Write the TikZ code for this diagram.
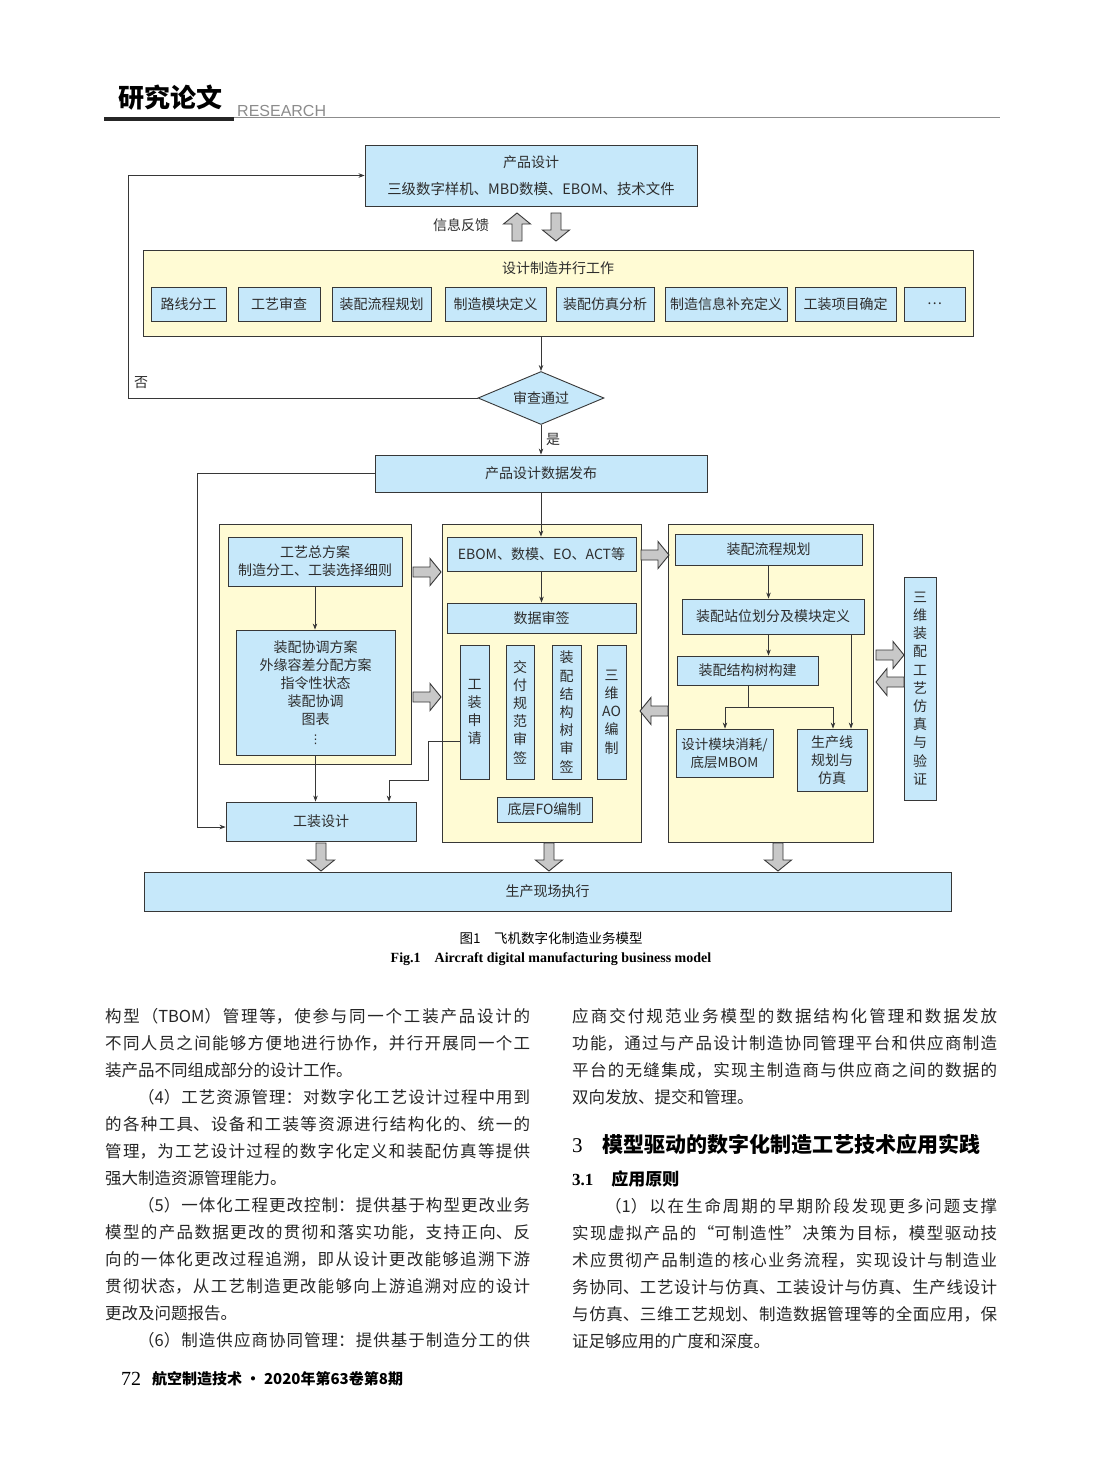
\documentclass[tikz,border=0pt]{standalone}
\usepackage{fontspec}
\setmainfont{Noto Sans CJK SC}
\newfontfamily\serifL{Liberation Serif}
\newfontfamily\sansL{Liberation Sans}
\newfontfamily\dejavu{DejaVu Sans}
\usetikzlibrary{shapes.geometric,arrows.meta}
\XeTeXlinebreaklocale "zh"
\XeTeXlinebreakskip=0pt plus 6pt
\definecolor{blueF}{RGB}{198,232,250}
\definecolor{yelF}{RGB}{255,251,212}
\definecolor{lineC}{RGB}{55,55,55}
\definecolor{arrF}{RGB}{200,200,200}
\definecolor{txtC}{RGB}{45,45,45}
\definecolor{hdgray}{RGB}{140,140,140}
\newcommand\dfont{\fontsize{14}{18}\selectfont}
\newcommand\bodyfont{\fontsize{16.5}{27}\selectfont}
\newcommand\jl[1]{\parbox[b]{425pt}{\noindent\parfillskip=0pt\relax #1}}
\newcommand\bx[7]{\node[#6, minimum width={(#4-#2)*1pt}, minimum height={(#5-#3)*1pt}] (#1) at ({(#2+#4)/2},{(#3+#5)/2}) {#7};}
\tikzset{
  every node/.style={text=txtC},
  bbox/.style={draw=lineC, line width=0.9pt, fill=blueF, inner sep=0pt, align=center, font=\dfont},
  ybox/.style={draw=lineC, line width=0.9pt, fill=yelF, inner sep=0pt},
  vbox/.style={bbox, font=\fontsize{14}{18.2}\selectfont},
  decision/.style={diamond, aspect=2.38, draw=lineC, line width=0.9pt, fill=blueF, minimum width=126pt, minimum height=53pt, inner sep=0pt, font=\dfont},
  arr/.style={draw=lineC, line width=0.7pt, -{Stealth[length=6pt,width=4.5pt]}},
  ln/.style={draw=lineC, line width=0.7pt},
  blk/.style={draw=lineC, line width=0.9pt, fill=arrF, line join=miter},
  lbl/.style={font=\dfont, inner sep=0pt},
  body/.style={anchor=base west, inner sep=0pt, font=\bodyfont, text=black!85},
  barr/.pic={\path[blk] (0,-5) -- (17,-5) -- (17,-13.5) -- (28,0) -- (17,13.5) -- (17,5) -- (0,5) -- cycle;}
}
\begin{document}
\begin{tikzpicture}[x=1pt,y=-1pt]
\useasboundingbox (0,0) rectangle (1102,1484);
\fill[white] (0,0) rectangle (1102,1484);
% header
\node[inner sep=0pt, font=\fontsize{26}{26}\selectfont\bfseries, text=black] (hd) at (170,98) {研究论文};
\node[inner sep=0pt, anchor=base west, font=\sansL\fontsize{16}{16}\selectfont, text=hdgray] (rs) at (237,116) {RESEARCH};
\draw[black!85, line width=4pt] (104,119) -- (234,119);
\draw[hdgray, line width=1.2pt] (234,117.5) -- (1000,117.5);
% top
\bx{pd}{365}{145}{697}{206}{bbox}{产品设计\\[9pt]\fontsize{14.4}{18}\selectfont 三级数字样机、MBD数模、EBOM、技术文件}
\node[lbl] (fb) at (461,225) {信息反馈};
\pic[rotate=90] (fbu) at (517,241) {barr};
\pic[rotate=-90] (fbd) at (556,213) {barr};
\bx{par}{143}{250}{973}{336}{ybox}{}
\node[lbl] (parT) at (558,268) {设计制造并行工作};
\bx{p1}{151}{287}{226}{321}{bbox}{路线分工}
\bx{p2}{238}{287}{320}{321}{bbox}{工艺审查}
\bx{p3}{332}{287}{431}{321}{bbox}{装配流程规划}
\bx{p4}{445}{287}{546}{321}{bbox}{制造模块定义}
\bx{p5}{556}{287}{654}{321}{bbox}{装配仿真分析}
\bx{p6}{665}{287}{787}{321}{bbox}{制造信息补充定义}
\bx{p7}{795}{287}{896}{321}{bbox}{工装项目确定}
\bx{p8}{904}{287}{965}{321}{bbox}{…}
\node[decision] (dia) at (541,398) {审查通过};
\node[lbl] (no) at (141,383) {否};
\node[lbl] (yes) at (553,439) {是};
\bx{pub}{375}{455}{707}{492}{bbox}{产品设计数据发布}
% yellow groups
\bx{yL}{219}{524}{411}{764}{ybox}{}
\bx{yM}{442}{524}{641}{842}{ybox}{}
\bx{yR}{668}{524}{873}{842}{ybox}{}
% left group
\bx{gz}{228}{537}{402}{586}{bbox}{工艺总方案\\制造分工、工装选择细则}
\bx{zt}{236}{630}{395}{755}{bbox}{装配协调方案\\外缘容差分配方案\\指令性状态\\装配协调\\图表\\[1pt]{\dejavu\fontsize{12}{12}\selectfont ⋮}}
\bx{tool}{226}{802}{416}{841}{bbox}{工装设计}
% middle group
\bx{eb}{447}{537}{636}{571}{bbox}{EBOM、数模、EO、ACT等}
\bx{sq}{447}{603}{636}{633}{bbox}{数据审签}
\bx{v1}{460}{645}{489}{779}{vbox}{工\\装\\申\\请}
\bx{v2}{506}{645}{534}{779}{vbox}{交\\付\\规\\范\\审\\签}
\bx{v3}{552}{645}{581}{779}{vbox}{装\\配\\结\\构\\树\\审\\签}
\bx{v4}{597}{645}{626}{779}{vbox}{三\\维\\AO\\编\\制}
\bx{fo}{497}{797}{592}{822}{bbox}{底层FO编制}
% right group
\bx{lc}{675}{534}{862}{565}{bbox}{装配流程规划}
\bx{zw}{682}{599}{864}{634}{bbox}{装配站位划分及模块定义}
\bx{jgs}{677}{656}{818}{685}{bbox}{装配结构树构建}
\bx{mk}{676}{729}{773}{777}{bbox}{\fontsize{13.5}{18}\selectfont 设计模块消耗/\\\fontsize{13.5}{18}\selectfont 底层MBOM}
\bx{scx}{797}{729}{867}{791}{bbox}{生产线\\规划与\\仿真}
\bx{sim}{904}{577}{936}{800}{vbox}{三\\维\\装\\配\\工\\艺\\仿\\真\\与\\验\\证}
\bx{exe}{144}{872}{951}{911}{bbox}{生产现场执行}
% connectors
\coordinate (fbk) at (128,0);
\coordinate (lft) at (197,827);
\coordinate (c1) at (428,741);
\coordinate (c2) at (389,780);
\coordinate (c3) at (851,0);
\coordinate (c4) at (748,707);
\coordinate (c5) at (725,707);
\coordinate (c6) at (833,707);
\draw[arr] (dia.north |- par.south) -- (dia.north);
\draw[arr] (dia.west) -| (fbk |- pd.west) -- (pd.west);
\draw[arr] (dia.south) -- (pub.north -| dia.south);
\draw[arr] (pub.west) -| (lft) -- (tool.west |- lft);
\draw[arr] (pub.south) -- (pub.south |- eb.north);
\draw[arr] (gz.south) -- (gz.south |- zt.north);
\draw[arr] (zt.south) -- (zt.south |- tool.north);
\draw[arr] (v1.west |- c1) -- (c1) |- (c2) -- (c2 |- tool.north);
\draw[arr] (eb.south) -- (eb.south |- sq.north);
\draw[arr] (lc.south) -- (lc.south |- zw.north);
\draw[arr] (zw.south -| lc.south) -- (lc.south |- jgs.north);
\draw[arr] (zw.south -| c3) -- (scx.north -| c3);
\draw[ln] (jgs.south -| c4) -- (c4);
\draw[arr] (c4) -- (c5) -- (c5 |- mk.north);
\draw[arr] (c4) -- (c6) -- (c6 |- scx.north);
% block arrows
\pic (bL1) at (413,572) {barr};
\pic (bL2) at (413,697) {barr};
\pic (bMR) at (641,555) {barr};
\pic[rotate=180] (bRM) at (668,711) {barr};
\pic (bR3) at (876,655) {barr};
\pic[rotate=180] (b3R) at (904,682) {barr};
\pic[rotate=-90] (bd1) at (321,843) {barr};
\pic[rotate=-90] (bd2) at (549,843) {barr};
\pic[rotate=-90] (bd3) at (778,843) {barr};
% caption
\node[inner sep=0pt, font=\fontsize{13.5}{14}\selectfont, text=black] (cap1) at (551,938) {图1\quad 飞机数字化制造业务模型};
\node[inner sep=0pt, font=\serifL\bfseries\fontsize{14}{14}\selectfont, text=black] (cap2) at (551,959) {Fig.1\quad Aircraft digital manufacturing business model};
% left column
\node[body] (l1) at (105,1022) {\jl{构型（TBOM）管理等，使参与同一个工装产品设计的}};
\node[body] (l2) at (105,1049) {\jl{不同人员之间能够方便地进行协作，并行开展同一个工}};
\node[body] (l3) at (105,1076) {装产品不同组成部分的设计工作。};
\node[body] (l4) at (105,1103) {\jl{\hskip 33pt（4）工艺资源管理：对数字化工艺设计过程中用到}};
\node[body] (l5) at (105,1130) {\jl{的各种工具、设备和工装等资源进行结构化的、统一的}};
\node[body] (l6) at (105,1157) {\jl{管理，为工艺设计过程的数字化定义和装配仿真等提供}};
\node[body] (l7) at (105,1184) {强大制造资源管理能力。};
\node[body] (l8) at (105,1211) {\jl{\hskip 33pt（5）一体化工程更改控制：提供基于构型更改业务}};
\node[body] (l9) at (105,1238) {\jl{模型的产品数据更改的贯彻和落实功能，支持正向、反}};
\node[body] (l10) at (105,1265) {\jl{向的一体化更改过程追溯，即从设计更改能够追溯下游}};
\node[body] (l11) at (105,1292) {\jl{贯彻状态，从工艺制造更改能够向上游追溯对应的设计}};
\node[body] (l12) at (105,1319) {更改及问题报告。};
\node[body] (l13) at (105,1346) {\jl{\hskip 33pt（6）制造供应商协同管理：提供基于制造分工的供}};
% right column
\node[body] (r1) at (572,1022) {\jl{应商交付规范业务模型的数据结构化管理和数据发放}};
\node[body] (r2) at (572,1049) {\jl{功能，通过与产品设计制造协同管理平台和供应商制造}};
\node[body] (r3) at (572,1076) {\jl{平台的无缝集成，实现主制造商与供应商之间的数据的}};
\node[body] (r4) at (572,1103) {双向发放、提交和管理。};
\node[body, font=\fontsize{21}{21}\selectfont, text=black] (h3) at (572,1152) {{\serifL 3}\hskip 20pt\bfseries 模型驱动的数字化制造工艺技术应用实践};
\node[body, font=\fontsize{17}{17}\selectfont\bfseries, text=black] (h31) at (572,1185) {{\serifL 3.1}\hskip 18pt 应用原则};
\node[body] (r5) at (572,1212) {\jl{\hskip 33pt（1）以在生命周期的早期阶段发现更多问题支撑}};
\node[body] (r6) at (572,1239) {\jl{实现虚拟产品的“可制造性”决策为目标，模型驱动技}};
\node[body] (r7) at (572,1266) {\jl{术应贯彻产品制造的核心业务流程，实现设计与制造业}};
\node[body] (r8) at (572,1293) {\jl{务协同、工艺设计与仿真、工装设计与仿真、生产线设计}};
\node[body] (r9) at (572,1320) {\jl{与仿真、三维工艺规划、制造数据管理等的全面应用，保}};
\node[body] (r10) at (572,1347) {证足够应用的广度和深度。};
% footer
\node[anchor=base west, inner sep=0pt, font=\serifL\fontsize{20}{20}\selectfont, text=black] (pg) at (121,1385) {72};
\node[anchor=base west, inner sep=0pt, font=\bfseries\fontsize{15}{15}\selectfont, text=black] (jn) at (152,1384) {航空制造技术 · 2020年第63卷第8期};
\end{tikzpicture}
\end{document}
